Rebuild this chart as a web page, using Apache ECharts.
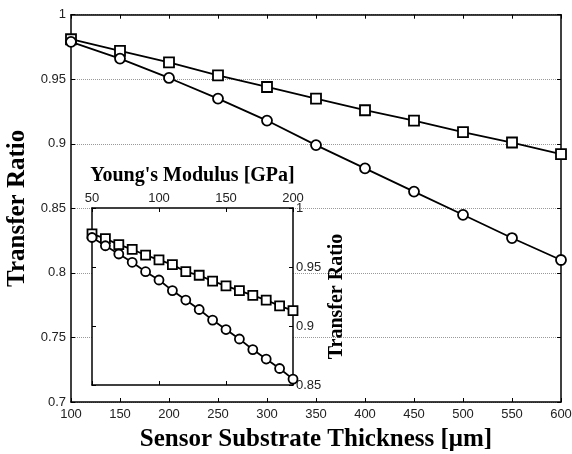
<!DOCTYPE html>
<html>
<head>
<meta charset="utf-8">
<script src="https://cdn.jsdelivr.net/npm/echarts@6/dist/echarts.min.js"></script>
<style>html,body{margin:0;padding:0;background:#fff}#c{width:572px;height:454px}</style>
</head>
<body>
<div id="c"></div>
<script>
// Main chart data
var thickness = [100, 150, 200, 250, 300, 350, 400, 450, 500, 550, 600];
var mainSquare = [0.981, 0.972, 0.963, 0.953, 0.944, 0.935, 0.926, 0.918, 0.909, 0.901, 0.892];
var mainCircle = [0.979, 0.966, 0.951, 0.935, 0.918, 0.899, 0.881, 0.863, 0.845, 0.827, 0.810];
// Inset data
var modulus = [50, 60, 70, 80, 90, 100, 110, 120, 130, 140, 150, 160, 170, 180, 190, 200];
var insetSquare = [0.978, 0.974, 0.969, 0.965, 0.960, 0.956, 0.952, 0.946, 0.943, 0.938, 0.934, 0.930, 0.926, 0.922, 0.917, 0.913];
var insetCircle = [0.975, 0.968, 0.961, 0.954, 0.946, 0.939, 0.930, 0.922, 0.914, 0.905, 0.897, 0.889, 0.880, 0.872, 0.864, 0.855];
// Titles
var mainXTitle = 'Sensor Substrate Thickness [\u03bcm]';
var mainYTitle = 'Transfer Ratio';
var insetXTitle = "Young's Modulus [GPa]";
var insetYTitle = 'Transfer Ratio';

function pairs(xs, ys) { return xs.map(function (x, i) { return [x, ys[i]]; }); }

var serif = "'Liberation Serif','Times New Roman',serif";
var sans = "'Liberation Sans',Arial,sans-serif";
var axLine = { show: true, lineStyle: { color: '#000', width: 1.5 } };
var tickIn = { show: true, inside: true, length: 4, lineStyle: { color: '#000', width: 1 } };

var chart = echarts.init(document.getElementById('c'), null, { renderer: 'canvas' });
chart.setOption({
  animation: false,
  backgroundColor: '#fff',
  grid: [
    { left: 71, right: 11, top: 14.7, bottom: 52, containLabel: false, outerBoundsMode: 'none' },
    { left: 92, right: 279, top: 208, bottom: 69, containLabel: false, outerBoundsMode: 'none',
      show: true, backgroundColor: '#fff', borderWidth: 0, z: 5 }
  ],
  xAxis: [
    { gridIndex: 0, type: 'value', min: 100, max: 600, interval: 50, position: 'bottom',
      axisLine: axLine, axisTick: tickIn, splitLine: { show: false },
      axisLabel: { color: '#222', fontFamily: sans, fontSize: 13, margin: 6 },
      name: mainXTitle, nameLocation: 'middle', nameGap: 25,
      nameTextStyle: { fontFamily: serif, fontWeight: 'bold', fontSize: 25, color: '#000' } },
    { gridIndex: 0, type: 'value', min: 100, max: 600, interval: 50, position: 'top',
      axisLine: axLine, axisTick: tickIn, axisLabel: { show: false }, splitLine: { show: false } },
    { gridIndex: 1, type: 'value', min: 50, max: 200, interval: 50, position: 'top', z: 6,
      axisLine: axLine, axisTick: tickIn, splitLine: { show: false },
      axisLabel: { color: '#222', fontFamily: sans, fontSize: 13, margin: 3 },
      name: insetXTitle, nameLocation: 'middle', nameGap: 22,
      nameTextStyle: { fontFamily: serif, fontWeight: 'bold', fontSize: 20, color: '#000' } },
    { gridIndex: 1, type: 'value', min: 50, max: 200, interval: 50, position: 'bottom', z: 6,
      axisLine: axLine, axisTick: tickIn, axisLabel: { show: false }, splitLine: { show: false } }
  ],
  yAxis: [
    { gridIndex: 0, type: 'value', min: 0.7, max: 1, interval: 0.05, position: 'left',
      axisLine: axLine, axisTick: tickIn,
      splitLine: { show: true, lineStyle: { color: '#999', width: 1, type: [1, 1] } },
      axisLabel: { color: '#222', fontFamily: sans, fontSize: 13, margin: 5 },
      name: mainYTitle, nameLocation: 'middle', nameGap: 36, nameRotate: 90,
      nameTextStyle: { fontFamily: serif, fontWeight: 'bold', fontSize: 25, color: '#000' } },
    { gridIndex: 0, type: 'value', min: 0.7, max: 1, interval: 0.05, position: 'right',
      axisLine: axLine, axisTick: tickIn, axisLabel: { show: false }, splitLine: { show: false } },
    { gridIndex: 1, type: 'value', min: 0.85, max: 1, interval: 0.05, position: 'right', z: 6,
      axisLine: axLine, axisTick: tickIn, splitLine: { show: false },
      axisLabel: { color: '#222', fontFamily: sans, fontSize: 13, margin: 3 },
      name: insetYTitle, nameLocation: 'middle', nameGap: 34, nameRotate: 90,
      nameTextStyle: { fontFamily: serif, fontWeight: 'bold', fontSize: 20, color: '#000' } },
    { gridIndex: 1, type: 'value', min: 0.85, max: 1, interval: 0.05, position: 'left', z: 6,
      axisLine: axLine, axisTick: tickIn, axisLabel: { show: false }, splitLine: { show: false } }
  ],
  series: [
    { type: 'line', xAxisIndex: 0, yAxisIndex: 0, data: pairs(thickness, mainSquare),
      symbol: 'rect', symbolSize: 10, lineStyle: { color: '#000', width: 1.8 },
      itemStyle: { color: '#fff', borderColor: '#000', borderWidth: 1.8 } },
    { type: 'line', xAxisIndex: 0, yAxisIndex: 0, data: pairs(thickness, mainCircle),
      symbol: 'circle', symbolSize: 10, lineStyle: { color: '#000', width: 1.8 },
      itemStyle: { color: '#fff', borderColor: '#000', borderWidth: 1.8 } },
    { type: 'line', xAxisIndex: 2, yAxisIndex: 2, z: 7, data: pairs(modulus, insetSquare),
      symbol: 'rect', symbolSize: 9, lineStyle: { color: '#000', width: 1.8 },
      itemStyle: { color: '#fff', borderColor: '#000', borderWidth: 1.8 } },
    { type: 'line', xAxisIndex: 2, yAxisIndex: 2, z: 7, data: pairs(modulus, insetCircle),
      symbol: 'circle', symbolSize: 9, lineStyle: { color: '#000', width: 1.8 },
      itemStyle: { color: '#fff', borderColor: '#000', borderWidth: 1.8 } }
  ]
});
</script>
</body>
</html>
